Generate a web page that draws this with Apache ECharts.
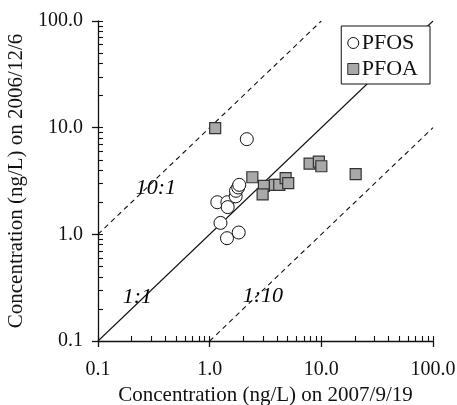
<!DOCTYPE html>
<html>
<head>
<meta charset="utf-8">
<script src="https://cdn.jsdelivr.net/npm/echarts@6/dist/echarts.min.js"></script>
<style>
  html, body { margin: 0; padding: 0; background: #fff; }
  #chart { width: 457px; height: 405px; }
</style>
</head>
<body>
<div id="chart"></div>
<script>
	// readings (ng/L): x = 2007/9/19, y = 2006/12/6
	var pfos = [
		[2.15, 7.8], [1.17, 2.0], [1.44, 2.0], [1.45, 1.8], [1.71, 2.27],
		[1.72, 2.56], [1.8, 2.75], [1.84, 2.91], [1.25, 1.28], [1.43, 0.92], [1.82, 1.04]
	];
	var pfoa = [
		[1.12, 9.9], [2.41, 3.43], [3.06, 2.85], [2.98, 2.37], [3.84, 2.91], [4.2, 2.91],
		[4.79, 3.36], [5.05, 3.02], [7.85, 4.6], [9.5, 4.8], [10.0, 4.35], [20.3, 3.67]
	];
	var line11 = [[0.1, 0.1], [100, 100]];
	var line101 = [[0.1, 1], [10, 100]];
	var line110 = [[1, 0.1], [100, 10]];
	var ratioLabels = [
		{ name: '10:1', value: [0.33, 2.73] },
		{ name: '1:1', value: [0.225, 0.256] },
		{ name: '1:10', value: [3.0, 0.262] }
	];
	var tickValues = [0.1, 0.2, 0.3, 0.4, 0.5, 0.6, 0.7, 0.8, 0.9, 1, 2, 3, 4, 5, 6, 7, 8, 9,
		10, 20, 30, 40, 50, 60, 70, 80, 90, 100];

	var chart = echarts.init(document.getElementById('chart'));
	var font = '"Liberation Serif", "DejaVu Serif", serif';

	function fmt(v) { return Number(v).toFixed(1); }

	var mainAxis = function (name, gap, rot, margin) {
		return {
			type: 'log', logBase: 10, min: 0.1, max: 100,
			name: name, nameLocation: 'middle', nameGap: gap, nameRotate: rot,
			nameTextStyle: { fontFamily: font, fontSize: 21, color: '#111' },
			axisLine: { show: true, onZero: false, lineStyle: { color: '#111', width: 1.3 } },
			axisTick: { show: true, inside: false, length: 6, lineStyle: { color: '#111', width: 1.3 } },
			axisLabel: { formatter: fmt, fontFamily: font, fontSize: 20, color: '#111', margin: margin },
			splitLine: { show: false }
		};
	};
	// inner ticks drawn on a linear axis that runs over log10 of the range
	var minorAxis = function (pos) {
		return {
			type: 'value', min: -1, max: 2, position: pos,
			axisLine: { show: false, onZero: false },
			axisTick: { show: true, inside: true, length: 5,
				customValues: tickValues.map(function (v) { return Math.log10(v); }),
				lineStyle: { color: '#111', width: 1.1 } },
			axisLabel: { show: false },
			splitLine: { show: false }
		};
	};

	var xMain = mainAxis('Concentration (ng/L) on 2007/9/19', 42, 0, 19);
	xMain.position = 'bottom';
	var yMain = mainAxis('Concentration (ng/L) on 2006/12/6', 58, 90, 15);
	yMain.position = 'left';

	var refLine = function (data, type) {
		return {
			type: 'line', data: data, symbol: 'none', silent: true, z: 1,
			lineStyle: { color: '#111', width: 1.1, type: type }
		};
	};

	var option = {
		animation: false,
		backgroundColor: '#fff',
		grid: { left: 98, right: 24, top: 21, bottom: 64, outerBoundsMode: 'none', containLabel: false },
		legend: {
			orient: 'vertical', right: 27, top: 26,
			data: [
				{ name: 'PFOS', icon: 'circle', itemStyle: { color: '#fff', borderColor: '#111', borderWidth: 1 } },
				{ name: 'PFOA', icon: 'rect', itemStyle: { color: '#a9a9a9', borderColor: '#333', borderWidth: 1 } }
			],
			itemWidth: 11, itemHeight: 11, itemGap: 4,
			padding: [6, 12, 4, 6],
			backgroundColor: '#fff', borderColor: '#111', borderWidth: 1,
			textStyle: { fontFamily: font, fontSize: 22, color: '#111', padding: [0, 0, 0, -2] }
		},
		xAxis: [xMain, minorAxis('bottom')],
		yAxis: [yMain, minorAxis('left')],
		series: [
			refLine(line11, 'solid'),
			refLine(line101, [5, 4]),
			refLine(line110, [5, 4]),
			{
				type: 'scatter', data: ratioLabels, symbolSize: 0, silent: true, z: 2,
				itemStyle: { opacity: 1, color: '#000' },
				label: {
					show: true, position: 'inside', formatter: '{b}',
					fontFamily: font, fontStyle: 'italic', fontSize: 22, color: '#000',
					textBorderWidth: 0, textBorderColor: 'transparent'
				}
			},
			{
				name: 'PFOS', type: 'scatter', data: pfos, symbol: 'circle', symbolSize: 13, z: 3,
				itemStyle: { color: '#fff', borderColor: '#111', borderWidth: 1, opacity: 1 }
			},
			{
				name: 'PFOA', type: 'scatter', data: pfoa, symbol: 'rect', symbolSize: 11, z: 4,
				itemStyle: { color: '#a9a9a9', borderColor: '#333', borderWidth: 1.2, opacity: 1 }
			}
		]
	};

	chart.setOption(option);
</script>
</body>
</html>
